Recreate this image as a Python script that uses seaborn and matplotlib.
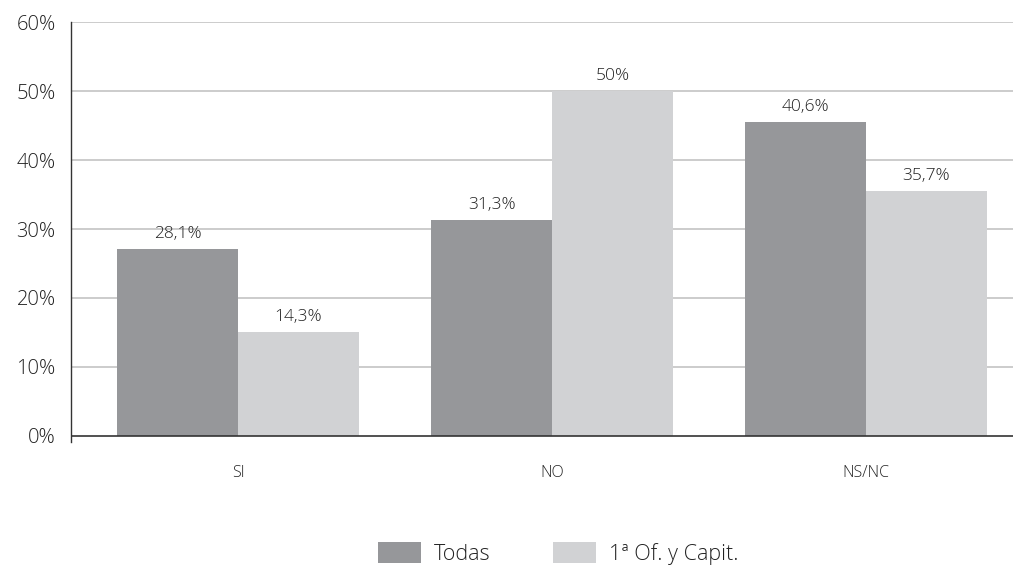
import pandas as pd
import numpy as np
import matplotlib
matplotlib.use("Agg")
import matplotlib.pyplot as plt
import seaborn as sns

categorias = ["SI", "NO", "NS/NC"]
series = ["Todas", "1ª Of. y Capit."]
todas = [27.1, 31.3, 45.5]
primera = [15.0, 50.0, 35.5]
etiq_todas = ["28,1%", "31,3%", "40,6%"]
etiq_primera = ["14,3%", "50%", "35,7%"]
yticks = [0, 10, 20, 30, 40, 50, 60]

df = pd.DataFrame({
    "cat": categorias * 2,
    "serie": [series[0]] * 3 + [series[1]] * 3,
    "valor": todas + primera,
})

sns.set_style("white")
plt.rcParams["font.family"] = ["Open Sans", "DejaVu Sans"]
plt.rcParams["font.weight"] = "light"
plt.rcParams["text.color"] = "#222222"

fig = plt.figure(figsize=(10.13, 5.66), dpi=100)
ax = fig.add_axes([0.0701, 0.2185, 0.9299, 0.7421])

sns.barplot(data=df, x="cat", y="valor", hue="serie", order=categorias,
            hue_order=series, palette=["#96979a", "#d1d2d4"], width=0.77,
            saturation=1, gap=0, linewidth=0, ax=ax, legend=True)

for cont, labs in zip(ax.containers, [etiq_todas, etiq_primera]):
    ax.bar_label(cont, labels=labs, padding=5, fontsize=12.5, color="#222222")

ax.set_ylim(-0.95, 60)
ax.set_xlim(-0.532, 2.468)
ax.set_yticks(yticks)
ax.set_yticklabels([f"{t}%" for t in yticks], fontsize=14.5, color="#222222")
ax.set_xticks(range(3))
ax.set_xticklabels(categorias, fontsize=11.5, color="#222222")
ax.tick_params(axis="x", length=0, pad=16)
ax.tick_params(axis="y", length=8, width=1, color="#333333", pad=3, direction="out")
ax.set_xlabel("")
ax.set_ylabel("")

for t in yticks[1:]:
    ax.axhline(t, color="#c8c8c8", lw=1.3, zorder=0)
ax.axhline(0, color="#333333", lw=1.2, zorder=3)

for s in ["top", "right", "bottom"]:
    ax.spines[s].set_visible(False)
ax.spines["left"].set_color("#333333")
ax.spines["left"].set_linewidth(1)

handles, labels = ax.get_legend_handles_labels()
ax.get_legend().remove()
fig.legend(handles, labels, loc="center", bbox_to_anchor=(0.551, 0.022),
           ncol=2, frameon=False, fontsize=15.5, handlelength=2.0,
           handleheight=1.1, columnspacing=2.9, handletextpad=0.6)

fig.savefig("out.png", dpi=100)
